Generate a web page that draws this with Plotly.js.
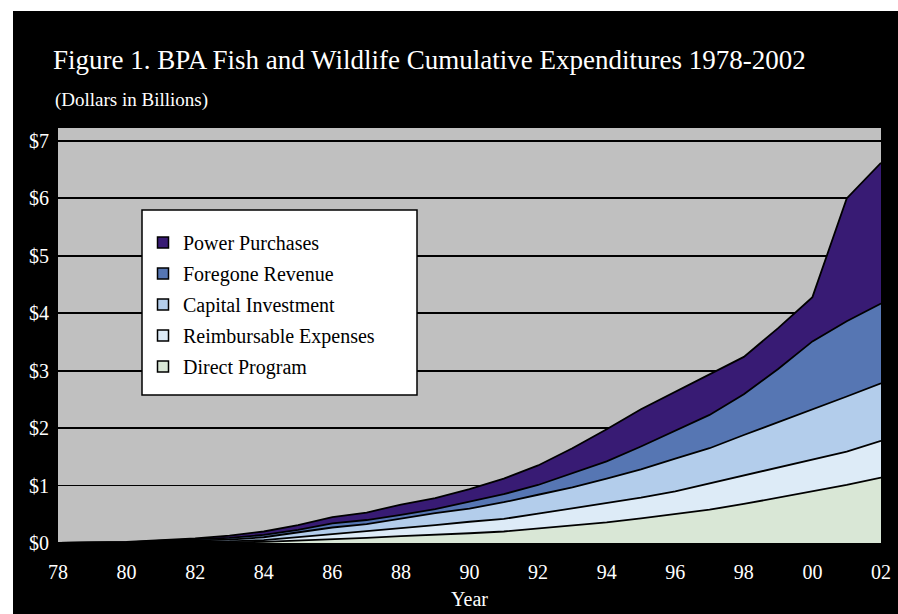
<!DOCTYPE html>
<html>
<head>
<meta charset="utf-8">
<script src="https://cdn.plot.ly/plotly-3.0.1.min.js"></script>
<style>
  html, body { margin: 0; padding: 0; background: #ffffff; width: 898px; height: 614px; overflow: hidden; }
  #chart { position: absolute; left: 13px; top: 11px; width: 885px; height: 603px; }
</style>
</head>
<body>
<div id="chart"></div>
<script>
// Years 1978-2002
const years = [1978,1979,1980,1981,1982,1983,1984,1985,1986,1987,1988,1989,1990,1991,1992,1993,1994,1995,1996,1997,1998,1999,2000,2001,2002];

// Annual layer values (billions of dollars, stacked cumulatively in the chart)
const directProgram =        [0,0,0.00,0.01,0.01,0.01,0.02,0.04,0.07,0.09,0.12,0.14,0.17,0.20,0.25,0.31,0.36,0.43,0.50,0.58,0.68,0.79,0.89,1.01,1.14];
const reimbursableExpenses = [0,0,0.01,0.01,0.01,0.02,0.03,0.06,0.09,0.11,0.14,0.17,0.20,0.22,0.26,0.29,0.33,0.36,0.40,0.46,0.50,0.52,0.56,0.58,0.64];
const capitalInvestment =    [0,0,0.00,0.01,0.02,0.03,0.05,0.08,0.11,0.13,0.17,0.21,0.23,0.29,0.33,0.37,0.43,0.49,0.57,0.61,0.70,0.79,0.88,0.96,1.00];
const foregoneRevenue =      [0,0,0.00,0.01,0.02,0.03,0.04,0.05,0.07,0.07,0.06,0.07,0.12,0.14,0.17,0.24,0.30,0.40,0.48,0.58,0.71,0.93,1.18,1.31,1.39];
const powerPurchases =       [0,0.01,0.01,0.01,0.02,0.04,0.06,0.08,0.11,0.13,0.18,0.19,0.22,0.27,0.34,0.44,0.56,0.65,0.68,0.71,0.65,0.71,0.77,2.14,2.45];

const seriesNames = ["Direct Program","Reimbursable Expenses","Capital Investment","Foregone Revenue","Power Purchases"];
const seriesColors = ["#d9e7d6","#ddebf7","#b3cdeb","#5676b3","#381b74"];
const seriesData = [directProgram, reimbursableExpenses, capitalInvestment, foregoneRevenue, powerPurchases];

const xTickVals = [1978,1980,1982,1984,1986,1988,1990,1992,1994,1996,1998,2000,2002];
const xTickText = ["78","80","82","84","86","88","90","92","94","96","98","00","02"];
const yTickVals = [0,1,2,3,4,5,6,7];
const yTickText = ["$0","$1","$2","$3","$4","$5","$6","$7"];

const serif = "Liberation Serif, Times New Roman, serif";

const traces = [];
seriesData.forEach((vals, i) => {
  traces.push({
    type: "scatter", mode: "lines", x: years, y: vals, name: seriesNames[i],
    stackgroup: "one", fillcolor: seriesColors[i],
    line: {color: "#000000", width: 1.8},
    showlegend: false, hoverinfo: "skip"
  });
});
// Legend entries (square swatches), top entry first
for (let i = seriesData.length - 1; i >= 0; i--) {
  traces.push({
    type: "scatter", mode: "markers", x: [null], y: [null], name: seriesNames[i],
    legendgroup: "g" + i,
    marker: {symbol: "square", size: 11, color: seriesColors[i], line: {color: "#000000", width: 1.5}},
    showlegend: true
  });
}

const layout = {
  width: 885, height: 603,
  paper_bgcolor: "#000000",
  plot_bgcolor: "#c0c0c0",
  margin: {l: 45, r: 17, t: 117, b: 71},
  font: {family: serif, color: "#ffffff", size: 19},
  title: {
    text: "Figure 1. BPA Fish and Wildlife Cumulative Expenditures 1978-2002",
    font: {family: serif, size: 27, color: "#ffffff"},
    xref: "container", yref: "container", x: 40/885, xanchor: "left", y: 1 - 49/603, yanchor: "middle"
  },
  annotations: [{
    text: "(Dollars in Billions)", xref: "paper", yref: "paper",
    x: -0.0065, y: 1.068, xanchor: "left", yanchor: "middle", showarrow: false,
    font: {family: serif, size: 19, color: "#ffffff"}
  }],
  xaxis: {
    range: [1978, 2002], tickmode: "array", tickvals: xTickVals, ticktext: xTickText,
    showgrid: false, zeroline: false, showline: false, ticks: "",
    ticklabelstandoff: 15,
    tickfont: {family: serif, size: 20, color: "#ffffff"},
    title: {text: "Year", font: {family: serif, size: 20, color: "#ffffff"}, standoff: 9}
  },
  yaxis: {
    range: [0, 7.225], tickmode: "array", tickvals: yTickVals, ticktext: yTickText,
    showgrid: true, gridcolor: "#000000", gridwidth: 1.8, zeroline: false, showline: false, ticks: "",
    ticklabelstandoff: 8,
    tickfont: {family: serif, size: 20, color: "#ffffff"}
  },
  shapes: [{
    type: "rect", xref: "paper", yref: "paper",
    x0: (142-58)/823, x1: (417-58)/823, y0: (543-395)/415, y1: (543-210)/415,
    fillcolor: "#ffffff", line: {color: "#000000", width: 1.5}, layer: "above"
  }],
  legend: {
    x: (143-58)/823, y: (543-223)/415, xanchor: "left", yanchor: "top",
    bgcolor: "rgba(0,0,0,0)", borderwidth: 0,
    traceorder: "grouped", tracegroupgap: 2,
    font: {family: serif, size: 20, color: "#000000"},
    itemwidth: 30
  },
  showlegend: true
};

Plotly.newPlot("chart", traces, layout, {displayModeBar: false, staticPlot: true});
</script>
</body>
</html>
